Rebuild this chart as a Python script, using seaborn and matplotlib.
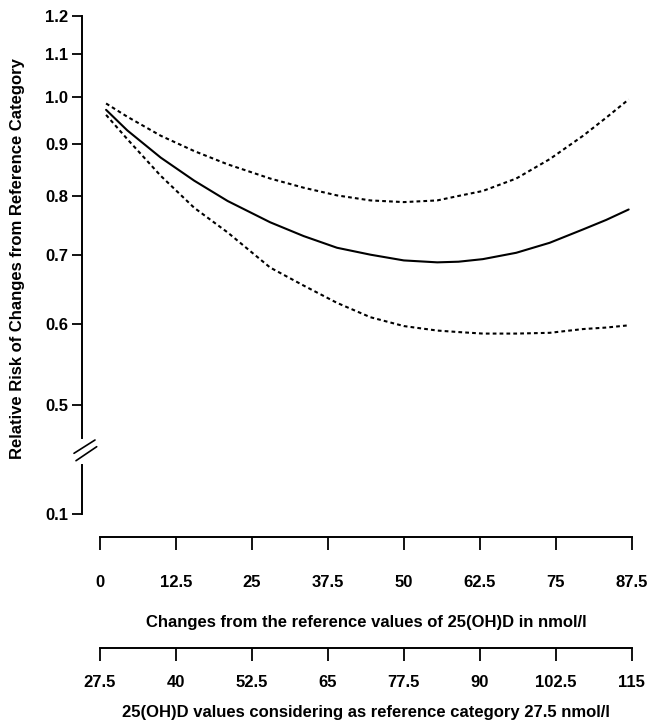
import matplotlib
matplotlib.use("Agg")
import matplotlib.pyplot as plt
from matplotlib.lines import Line2D
from matplotlib.ticker import FixedLocator, FixedFormatter, NullLocator
import pandas as pd
import seaborn as sns

# Change from the reference 25(OH)D level (nmol/l)
change = [1, 4.5, 10, 15.5, 21, 28, 33.5, 39, 44.5, 50, 55.5, 59, 63, 68.5, 74, 79.5, 83.3, 87]
# Relative risk estimate and 95% confidence limits
rr_estimate = [0.971, 0.927, 0.872, 0.828, 0.791, 0.754, 0.731, 0.712, 0.701, 0.692,
               0.689, 0.690, 0.694, 0.704, 0.720, 0.742, 0.758, 0.776]
rr_upper = [0.985, 0.956, 0.916, 0.885, 0.859, 0.832, 0.815, 0.801, 0.792, 0.789,
            0.792, 0.800, 0.809, 0.832, 0.869, 0.916, 0.954, 0.994]
rr_lower = [0.960, 0.909, 0.837, 0.779, 0.737, 0.681, 0.654, 0.629, 0.609, 0.597,
            0.591, 0.589, 0.587, 0.587, 0.588, 0.593, 0.595, 0.598]

change_ticks = [0, 12.5, 25, 37.5, 50, 62.5, 75, 87.5]
change_labels = ["0", "12.5", "25", "37.5", "50", "62.5", "75", "87.5"]
level_labels = ["27.5", "40", "52.5", "65", "77.5", "90", "102.5", "115"]
rr_ticks = [0.5, 0.6, 0.7, 0.8, 0.9, 1.0, 1.1, 1.2]
rr_tick_labels = ["0.5", "0.6", "0.7", "0.8", "0.9", "1.0", "1.1", "1.2"]
rr_low_ticks = [0.1]
rr_low_labels = ["0.1"]

sns.set_style("ticks")
plt.rcParams["font.family"] = ["Liberation Sans", "DejaVu Sans"]
plt.rcParams["font.weight"] = "bold"
for key in ["text.color", "axes.labelcolor", "axes.edgecolor", "xtick.color", "ytick.color",
            "xtick.labelcolor", "ytick.labelcolor"]:
    plt.rcParams[key] = "black"

W, H = 649, 724
fig = plt.figure(figsize=(W / 100, H / 100), dpi=100)
fig.patch.set_facecolor("white")

# pixel layout helpers
x0_px, x1_px = 100.0, 631.7          # columns of change = 0 and 87.5
left_px, right_px = 81.7, 640.0
scale = (x1_px - x0_px) / 87.5
xlim = ((left_px - x0_px) / scale, (right_px - x0_px) / scale)
ax_w = (right_px - left_px) / W


def fy(py):
    return 1 - py / H


SPINE_LW = 1.4
TICK_LEN = 7.2
TICK_FS = 12
LABEL_FS = 12

# main panel (log scale)
ax = fig.add_axes([left_px / W, fy(438.3), ax_w, (438.3 - 15.7) / H])
ax.set_facecolor("none")
df = pd.DataFrame({"change": change, "estimate": rr_estimate,
                   "upper": rr_upper, "lower": rr_lower})
dash = (0, (1.8, 1.5))
sns.lineplot(data=df, x="change", y="estimate", ax=ax, color="black", lw=1.5)
sns.lineplot(data=df, x="change", y="upper", ax=ax, color="black", lw=1.5, linestyle=dash)
sns.lineplot(data=df, x="change", y="lower", ax=ax, color="black", lw=1.5, linestyle=dash)
ax.set_yscale("log")
ax.set_ylim(0.4638, 1.2)
ax.set_xlim(*xlim)
ax.yaxis.set_major_locator(FixedLocator(rr_ticks))
ax.yaxis.set_major_formatter(FixedFormatter(rr_tick_labels))
ax.yaxis.set_minor_locator(NullLocator())
ax.set_xlabel("")
ax.set_ylabel("")
ax.xaxis.set_visible(False)
for s in ["top", "right", "bottom"]:
    ax.spines[s].set_visible(False)
ax.spines["left"].set_linewidth(SPINE_LW)
ax.spines["left"].set_color("black")
ax.tick_params(axis="y", length=TICK_LEN, width=1.3, pad=2.6, labelsize=TICK_FS,
               color="black", labelcolor="black")

# lower stub of the broken axis
ax_low = fig.add_axes([left_px / W, fy(514), ax_w, (514 - 465) / H])
ax_low.set_facecolor("none")
ax_low.set_ylim(0.1, 0.2)
ax_low.set_xlim(*xlim)
ax_low.yaxis.set_major_locator(FixedLocator(rr_low_ticks))
ax_low.yaxis.set_major_formatter(FixedFormatter(rr_low_labels))
ax_low.xaxis.set_visible(False)
for s in ["top", "right", "bottom"]:
    ax_low.spines[s].set_visible(False)
ax_low.spines["left"].set_linewidth(SPINE_LW)
ax_low.spines["left"].set_color("black")
ax_low.tick_params(axis="y", length=TICK_LEN, width=1.3, pad=2.6, labelsize=TICK_FS,
                   color="black", labelcolor="black")

# break marks on the y axis
for (xa, ya, xb, yb) in [(74, 453.3, 95, 440), (76, 460.7, 96.7, 446.7)]:
    fig.add_artist(Line2D([xa / W, xb / W], [fy(ya), fy(yb)], color="black", lw=1.2,
                          transform=fig.transFigure))


def x_axis(py_line, labels, pad):
    a = fig.add_axes([left_px / W, fy(py_line), ax_w, 1.0 / H])
    a.set_facecolor("none")
    a.set_xlim(*xlim)
    a.yaxis.set_visible(False)
    for s in ["top", "right", "left"]:
        a.spines[s].set_visible(False)
    a.spines["bottom"].set_linewidth(SPINE_LW)
    a.spines["bottom"].set_color("black")
    a.spines["bottom"].set_bounds(0, 87.5)
    a.xaxis.set_major_locator(FixedLocator(change_ticks))
    a.xaxis.set_major_formatter(FixedFormatter(labels))
    a.tick_params(axis="x", length=9.6, width=1.3, pad=pad, labelsize=TICK_FS,
                  color="black", labelcolor="black")
    return a


x_axis(537.3, change_labels, 17.3)
x_axis(648.3, level_labels, 9.3)

cx = (x0_px + x1_px) / 2 / W
fig.text(cx, fy(622.7), "Changes from the reference values of 25(OH)D in nmol/l",
         ha="center", va="center", fontsize=LABEL_FS, fontweight="bold", color="black")
fig.text(cx, fy(713), "25(OH)D values considering as reference category 27.5 nmol/l",
         ha="center", va="center", fontsize=LABEL_FS, fontweight="bold", color="black")
fig.text(17.5 / W, fy(259), "Relative Risk of Changes from Reference Category",
         rotation=90, ha="center", va="center", fontsize=LABEL_FS, fontweight="bold",
         color="black")

fig.savefig("out.png", dpi=100, facecolor="white")
